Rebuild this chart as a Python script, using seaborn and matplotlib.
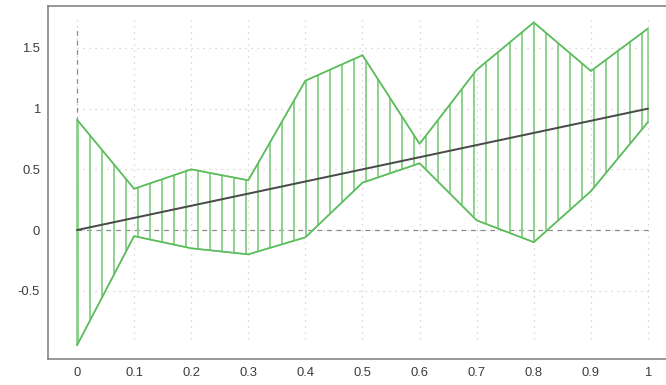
import numpy as np
import pandas as pd
import matplotlib
matplotlib.use("Agg")
import matplotlib.pyplot as plt
import seaborn as sns

# dados
x = [0.0, 0.1, 0.2, 0.3, 0.4, 0.5, 0.6, 0.7, 0.8, 0.9, 1.0]
superior = [0.91, 0.34, 0.50, 0.41, 1.23, 1.44, 0.71, 1.32, 1.71, 1.31, 1.66]
inferior = [-0.95, -0.05, -0.15, -0.20, -0.06, 0.39, 0.55, 0.08, -0.10, 0.32, 0.89]
centro = [0.0, 0.1, 0.2, 0.3, 0.4, 0.5, 0.6, 0.7, 0.8, 0.9, 1.0]
xticks = [0, 0.1, 0.2, 0.3, 0.4, 0.5, 0.6, 0.7, 0.8, 0.9, 1]
xlabels = ["0", "0.1", "0.2", "0.3", "0.4", "0.5", "0.6", "0.7", "0.8", "0.9", "1"]
yticks = [-0.5, 0, 0.5, 1, 1.5]
ylabels = ["-0.5", "0", "0.5", "1", "1.5"]

verde = "#5cbd5c"
verde_claro = "#86cf86"
cinza = "#8a8a8a"

sns.set_style("white")
plt.rcParams["font.family"] = ["Liberation Sans", "DejaVu Sans"]
plt.rcParams["hatch.linewidth"] = 1.8

fig = plt.figure(figsize=(666 / 72, 385 / 72), dpi=72)
ax = fig.add_axes([0.072, 0.0675, 0.931, 0.9165])

# grade pontilhada só dentro da faixa dos dados
ymin, ymax = min(inferior), max(superior) + 0.02
ax.vlines(xticks, ymin + 0.05, ymax, colors="#c8c8c8", linestyles=(0, (1, 4)), linewidth=1.2, zorder=0)
ax.hlines(yticks, 0, 1, colors="#c8c8c8", linestyles=(0, (1, 4)), linewidth=1.2, zorder=0)
# eixos tracejados
ax.vlines([0], ymin + 0.1, ymax - 0.05, colors=cinza, linestyles=(0, (4, 4)), linewidth=1.2, zorder=1)
ax.hlines([0], 0, 1, colors=cinza, linestyles=(0, (4, 4)), linewidth=1.2, zorder=1)

# area hachurada (poligono: borda de cima e depois a de baixo ao contrario)
contorno_x = x + x[::-1]
contorno_y = superior + inferior[::-1]
ax.fill(contorno_x, contorno_y, facecolor=(1, 1, 1, 0), edgecolor=verde_claro,
        hatch="|", linewidth=1.6, zorder=2)

# bordas
df = pd.DataFrame({"x": x, "sup": superior, "inf": inferior, "c": centro})
sns.lineplot(data=df, x="x", y="sup", color=verde, linewidth=1.6, ax=ax, zorder=3)
sns.lineplot(data=df, x="x", y="inf", color=verde, linewidth=1.6, ax=ax, zorder=3)
sns.lineplot(data=df, x="x", y="c", color="#4a4a4a", linewidth=2, ax=ax, zorder=4)

ax.set_xlim(-0.0508, 1.035)
ax.set_ylim(-1.062, 1.844)
ax.set_xticks(xticks)
ax.set_xticklabels(xlabels)
ax.set_yticks(yticks)
ax.set_yticklabels(ylabels)
ax.set_xlabel("")
ax.set_ylabel("")
ax.tick_params(length=0, labelsize=13, labelcolor="#3c3c3c", pad=8)

for lado in ["left", "bottom", "top"]:
    ax.spines[lado].set_color("#808080")
    ax.spines[lado].set_linewidth(1.6)
ax.spines["right"].set_visible(False)

fig.savefig("out.png", dpi=72)
